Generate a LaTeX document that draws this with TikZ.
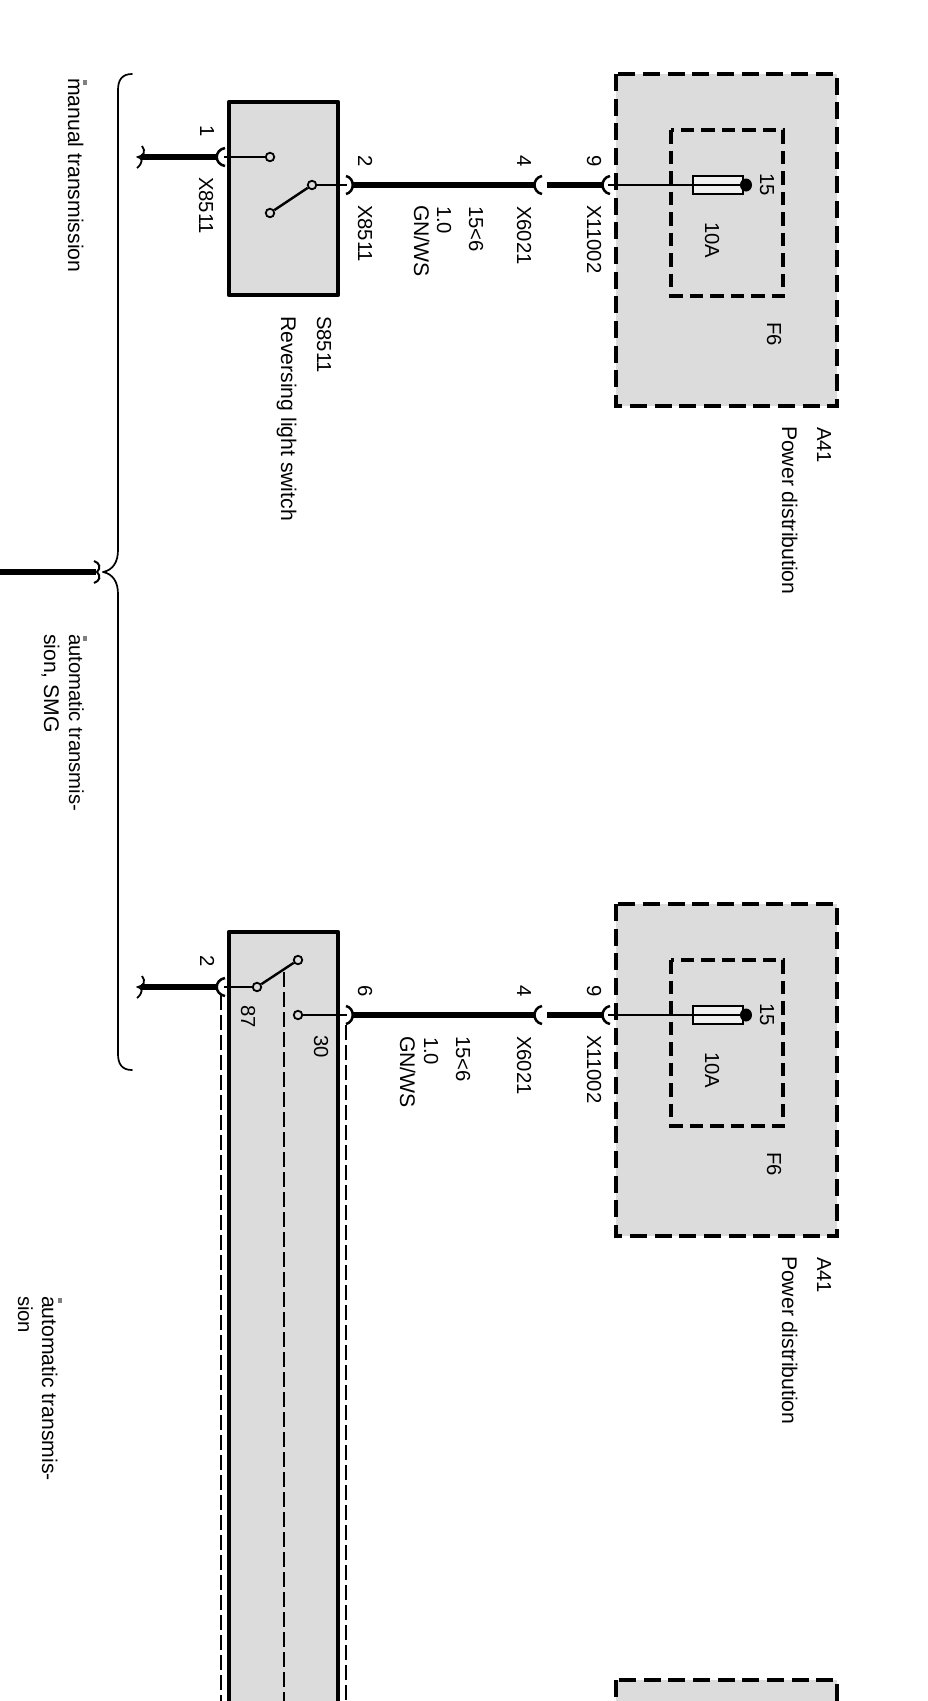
\documentclass[tikz,border=0pt]{standalone}
\usepackage{fontspec}
\setmainfont{Liberation Sans}
\usetikzlibrary{shapes.geometric}
\definecolor{boxgray}{HTML}{DCDCDC}
\tikzset{
  x=1pt,y=-1pt,
  lbl/.style={rotate=-90,anchor=base west,inner sep=0pt,outer sep=0pt,font=\fontsize{20.3}{22}\selectfont,text=black},
  lblwide/.style={lbl,font=\fontsize{21.2}{23}\selectfont},
  solidbox/.style={draw=black,line width=4.4pt,fill=boxgray,line join=round},
  dashbox/.style={draw=black,line width=4pt,fill=boxgray,dash pattern=on 17pt off 7.7pt},
  innerbox/.style={draw=black,line width=3.5pt,dash pattern=on 13.5pt off 7pt},
  thickwire/.style={line width=6pt,draw=black},
  thinwire/.style={line width=1.6pt,draw=black},
  midwire/.style={line width=2.4pt,draw=black},
  thindash/.style={line width=1.5pt,draw=black,dash pattern=on 15pt off 5pt},
  cupline/.style={line width=2.5pt,draw=black},
  contact/.style={circle,draw=black,line width=1.8pt,fill=boxgray,minimum size=8.5pt,inner sep=0pt},
  fusebody/.style={draw=black,line width=1.6pt,fill=white!60!boxgray,minimum width=50pt,minimum height=18pt,inner sep=0pt},
  fuseend/.style={ellipse,fill=black,minimum width=12pt,minimum height=13pt,inner sep=0pt},
  speck/.style={fill=black!50,inner sep=0pt,minimum width=4pt,minimum height=5pt},
  bracecurve/.style={line width=1.7pt,draw=black,line cap=round}
}
\newcommand{\rlabel}[3]{\node[lbl] at (#1,#2) {#3};}
\newcommand{\wlabel}[3]{\node[lblwide] at (#1,#2) {#3};}
\begin{document}
\begin{tikzpicture}
\useasboundingbox (0,0) rectangle (927,1701);
\clip (0,0) rectangle (927,1701);
\fill[white] (0,0) rectangle (927,1701);

% brace
\coordinate (brTop) at (132,74);
\coordinate (brTip) at (103,572);
\coordinate (brBot) at (132,1070);
\draw[bracecurve] (brTop) .. controls (122,74) and (118,80) .. (118,90)
  -- (118,550) .. controls (118,562) and (113,570) .. (brTip)
  (brTip) .. controls (113,574) and (118,582) .. (118,594)
  -- (118,1054) .. controls (118,1064) and (122,1070) .. (brBot);
% wire to the brace
\coordinate (brWire) at (96,572);
\coordinate (brWireL) at (0,572);
\draw[thickwire] (brWireL) -- (brWire);
\draw[cupline,line width=2pt] (94,561) .. controls (100,563) and (101,568) .. (97,572) .. controls (101,576) and (100,581) .. (94,583);

% ===== section 1 =====
\draw[solidbox] (229,102) rectangle (338,295);
\node[contact] (c1a) at (270,157) {};
\node[contact] (c1b) at (270,213) {};
\node[contact] (c1c) at (312,185) {};
\coordinate (p1a) at (224,157);
\coordinate (p1b) at (347,185);
\draw[thinwire] (p1a) -- (c1a);
\draw[thinwire] (c1c) -- (p1b);
\draw[midwire] (c1b) -- (c1c);
\coordinate (end1) at (141,157);
\coordinate (t1a) at (218,157);
\draw[thickwire] (end1) -- (t1a);
\draw[cupline,line width=1.8pt] (142,146) .. controls (146,151) and (144,156) .. (138,157) .. controls (143,158) and (143,163) .. (137,168);
\draw[cupline] (225,148) .. controls (214,150) and (214,164) .. (225,166);
\draw[cupline] (346,176) .. controls (355,178) and (355,192) .. (346,194);

\draw[dashbox] (616,74) rectangle (837,406);
\draw[innerbox] (671,130) rectangle (783,296);
\coordinate (t1b) at (352,185);
\coordinate (t1c) at (534,185);
\coordinate (t1d) at (547,185);
\coordinate (t1e) at (602,185);
\node[fusebody] (f1) at (718,185) {};
\node[fuseend] (fe1) at (746,185) {};
\draw[thickwire] (t1b) -- (t1c);
\draw[thickwire] (t1d) -- (t1e);
\coordinate (t1f) at (608,185);
\draw[thinwire] (t1f) -- (fe1);
\draw[cupline] (542,176) .. controls (532,178) and (532,192) .. (542,194);
\draw[cupline] (610,176) .. controls (600,178) and (600,192) .. (610,194);

\rlabel{200}{125}{1}
\rlabel{199}{177}{X8511}
\rlabel{358}{155}{2}
\rlabel{358}{205}{X8511}
\rlabel{317}{316}{S8511}
\wlabel{281}{316}{Reversing light switch}
\wlabel{414}{205}{GN/WS}
\rlabel{437}{206}{1.0}
\rlabel{469}{206}{15<6}
\rlabel{517}{155}{4}
\rlabel{517}{206}{X6021}
\rlabel{587}{155}{9}
\rlabel{587}{205}{X11002}
\rlabel{760}{173}{15}
\rlabel{705}{222}{10A}
\rlabel{767}{322}{F6}
\rlabel{817}{427}{A41}
\wlabel{782}{426}{Power distribution}

% ===== section 2 =====
\draw[solidbox] (229,932) rectangle (338,1760);
\draw[thindash] (221,995) -- (221,1760);
\draw[thindash] (346,1025) -- (346,1760);
\draw[thindash] (284,972) -- (284,1760);
\node[contact] (c2a) at (257,987) {};
\node[contact] (c2b) at (298,960) {};
\node[contact] (c2c) at (298,1015) {};
\coordinate (p2a) at (224,987);
\coordinate (p2b) at (347,1015);
\draw[thinwire] (p2a) -- (c2a);
\draw[thinwire] (c2c) -- (p2b);
\draw[midwire] (c2a) -- (c2b);
\coordinate (end2) at (141,987);
\coordinate (t2a) at (218,987);
\draw[thickwire] (end2) -- (t2a);
\draw[cupline,line width=1.8pt] (142,976) .. controls (146,981) and (144,986) .. (138,987) .. controls (143,988) and (143,993) .. (137,998);
\draw[cupline] (225,978) .. controls (214,980) and (214,994) .. (225,996);
\draw[cupline] (346,1006) .. controls (355,1008) and (355,1022) .. (346,1024);

\draw[dashbox] (616,904) rectangle (837,1236);
\draw[innerbox] (671,960) rectangle (783,1126);
\coordinate (t2b) at (352,1015);
\coordinate (t2c) at (534,1015);
\coordinate (t2d) at (547,1015);
\coordinate (t2e) at (602,1015);
\node[fusebody] (f2) at (718,1015) {};
\node[fuseend] (fe2) at (746,1015) {};
\draw[thickwire] (t2b) -- (t2c);
\draw[thickwire] (t2d) -- (t2e);
\coordinate (t2f) at (608,1015);
\draw[midwire] (t2f) -- (fe2);
\draw[cupline] (542,1006) .. controls (532,1008) and (532,1022) .. (542,1024);
\draw[cupline] (610,1006) .. controls (600,1008) and (600,1022) .. (610,1024);

\rlabel{200}{955}{2}
\rlabel{241}{1005}{87}
\rlabel{314}{1035}{30}
\rlabel{358}{985}{6}
\wlabel{400}{1036}{GN/WS}
\rlabel{424}{1037}{1.0}
\rlabel{456}{1036}{15<6}
\rlabel{517}{985}{4}
\rlabel{517}{1036}{X6021}
\rlabel{587}{985}{9}
\rlabel{587}{1035}{X11002}
\rlabel{760}{1003}{15}
\rlabel{705}{1052}{10A}
\rlabel{767}{1152}{F6}
\rlabel{817}{1257}{A41}
\wlabel{782}{1256}{Power distribution}

% ===== third power box, cut by the page =====
\draw[dashbox] (616,1680) rectangle (837,1790);

% ===== variant notes =====
\node[lblwide] (n1) at (68,78) {manual transmission};
\node[lbl] (n2a) at (69,634) {automatic transmis-};
\node[lblwide] (n2b) at (44,634) {sion, SMG};
\node[lblwide] (n3a) at (42,1296) {automatic transmis-};
\node[lbl] (n3b) at (18,1296) {sion};
\node[speck] (s1) at (85,82) {};
\node[speck] (s2) at (85,638) {};
\node[speck] (s3) at (60,1300) {};
\end{tikzpicture}
\end{document}
